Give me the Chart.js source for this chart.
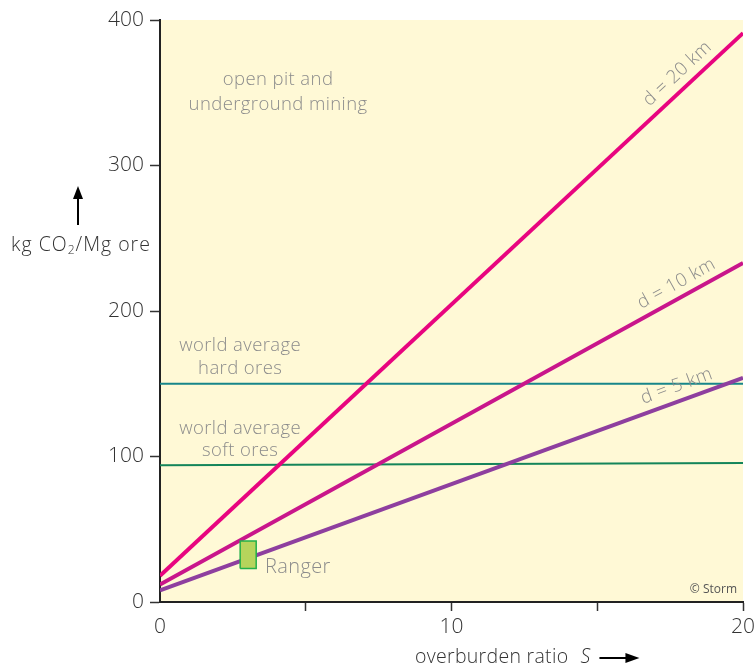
<!DOCTYPE html>
<html>
<head>
<meta charset="utf-8">
<script src="https://cdn.jsdelivr.net/npm/chart.js@4.4.1/dist/chart.umd.min.js"></script>
<style>
  body { margin: 0; background: #fff; }
  #wrap { width: 756px; height: 669px; }
</style>
</head>
<body>
<div id="wrap"><canvas id="graphCanvas" width="756" height="669"></canvas></div>
<script>
// overburden ratio S at both ends of each line
var sRange = [0, 20];
// kg CO2 / Mg ore
var d20km = [18, 391];
var d10km = [12, 233];
var d5km = [8, 154];
var hardOres = [150, 150];
var softOres = [94, 95.5];
// Ranger mine box
var rangerS = [2.75, 3.3];
var rangerCO2 = [23, 42];

var xTicks = [0, 5, 10, 15, 20];
var yTicks = [0, 100, 200, 300, 400];

var FONT = '"Open Sans", Lato, sans-serif';
var GREY = '#8c8c8c';

function pts(ys){
    return sRange.map(function(s, i){ return {x: s, y: ys[i]}; });
}

var rangerBox = [
    {x: rangerS[0], y: rangerCO2[0]},
    {x: rangerS[1], y: rangerCO2[0]},
    {x: rangerS[1], y: rangerCO2[1]},
    {x: rangerS[0], y: rangerCO2[1]},
    {x: rangerS[0], y: rangerCO2[0]}
];

var chartdata = {
    datasets: [
        { label: 'Ranger', data: rangerBox, borderColor: '#22b04a', backgroundColor: '#b6d45c', borderWidth: 1.5, fill: 'shape', order: 0 },
        { label: 'd = 5 km', data: pts(d5km), borderColor: '#8e3f9f', borderWidth: 4, order: 1 },
        { label: 'd = 10 km', data: pts(d10km), borderColor: '#c9168b', borderWidth: 4, order: 2 },
        { label: 'd = 20 km', data: pts(d20km), borderColor: '#e8057f', borderWidth: 4, order: 3 },
        { label: 'hard ores', data: pts(hardOres), borderColor: '#17868a', borderWidth: 2, order: 4 },
        { label: 'soft ores', data: pts(softOres), borderColor: '#14855a', borderWidth: 2, order: 5 }
    ]
};

// labels written in data coordinates
var notes = [
    {t: 'open pit and', s: 4.05, v: 359},
    {t: 'underground mining', s: 4.05, v: 342},
    {t: 'world average', s: 2.75, v: 176},
    {t: 'hard ores', s: 2.75, v: 160.5},
    {t: 'world average', s: 2.75, v: 119},
    {t: 'soft ores', s: 2.75, v: 104}
];
var lineNotes = [
    {t: 'd = 20 km', ys: d20km, s: 18.1, off: 15},
    {t: 'd = 10 km', ys: d10km, s: 17.95, off: 14},
    {t: 'd = 5 km', ys: d5km, s: 17.9, off: 15}
];

var decor = {
    id: 'decor',
    beforeDraw: function(chart){
        var a = chart.chartArea, c = chart.ctx;
        c.save();
        c.fillStyle = '#fff9d6';
        c.fillRect(a.left, a.top, a.right - a.left, a.bottom - a.top);
        c.restore();
    },
    afterDraw: function(chart){
        var c = chart.ctx, x = chart.scales.x, y = chart.scales.y, a = chart.chartArea;
        c.save();
        c.letterSpacing = '0.4px';
        c.fillStyle = GREY;
        c.font = '300 18.5px ' + FONT;
        c.textAlign = 'center';
        c.textBaseline = 'middle';
        notes.forEach(function(n){
            c.fillText(n.t, x.getPixelForValue(n.s), y.getPixelForValue(n.v));
        });

        // labels that run along the lines
        lineNotes.forEach(function(n){
            var x0 = x.getPixelForValue(sRange[0]), y0 = y.getPixelForValue(n.ys[0]);
            var x1 = x.getPixelForValue(sRange[1]), y1 = y.getPixelForValue(n.ys[1]);
            var ang = Math.atan2(y1 - y0, x1 - x0);
            var px = x.getPixelForValue(n.s);
            var py = y0 + (px - x0) * (y1 - y0) / (x1 - x0);
            c.save();
            c.translate(px, py);
            c.rotate(ang);
            c.fillText(n.t, 0, -n.off);
            c.restore();
        });

        c.textAlign = 'left';
        c.font = '300 20px ' + FONT;
        c.fillText('Ranger', x.getPixelForValue(3.6), y.getPixelForValue(24));

        c.letterSpacing = '0px';
        c.fillStyle = '#555';
        c.font = '12px ' + FONT;
        c.textAlign = 'right';
        c.fillText('\u00a9 Storm', a.right - 6, a.bottom - 12);

        // y axis title with subscript and arrow
        c.letterSpacing = '1px';
        c.fillStyle = '#333';
        c.textAlign = 'left';
        c.font = '300 19.5px ' + FONT;
        var tx = 11, ty = 245;
        c.fillText('kg CO', tx, ty);
        tx += c.measureText('kg CO').width;
        c.font = '300 12px ' + FONT;
        c.fillText('2', tx, ty + 6);
        tx += c.measureText('2').width;
        c.font = '300 19.5px ' + FONT;
        c.fillText('/Mg ore', tx, ty);

        c.strokeStyle = '#000';
        c.lineWidth = 2;
        c.beginPath();
        c.moveTo(78, 225); c.lineTo(78, 196); c.stroke();
        c.fillStyle = '#000';
        c.beginPath();
        c.moveTo(78, 186); c.lineTo(73, 199); c.lineTo(83, 199); c.closePath(); c.fill();

        // x axis title
        c.letterSpacing = '0.3px';
        c.fillStyle = '#333';
        c.font = '300 19.5px ' + FONT;
        var xx = 415, xy = 657;
        c.fillText('overburden ratio', xx, xy);
        xx += c.measureText('overburden ratio').width + 12;
        c.font = 'italic 300 19.5px ' + FONT;
        c.fillText('S', xx, xy);
        xx += c.measureText('S').width + 9;
        c.beginPath();
        c.moveTo(xx, xy + 1); c.lineTo(xx + 28, xy + 1); c.stroke();
        c.fillStyle = '#000';
        c.beginPath();
        c.moveTo(xx + 40, xy + 1); c.lineTo(xx + 26, xy - 4); c.lineTo(xx + 26, xy + 6); c.closePath(); c.fill();
        c.restore();
    }
};

var ctx = document.getElementById('graphCanvas');
var lineGraph = new Chart(ctx, {
    type: 'line',
    data: chartdata,
    plugins: [decor],
    options: {
        responsive: false,
        animation: false,
        layout: { padding: { top: 20, right: 13, left: 0, bottom: 0 } },
        elements: { point: { radius: 0 }, line: { tension: 0 } },
        plugins: { legend: { display: false }, tooltip: { enabled: false } },
        scales: {
            x: {
                type: 'linear', min: 0, max: 20,
                afterBuildTicks: function(s){ s.ticks = xTicks.map(function(v){ return {value: v}; }); },
                afterFit: function(s){ s.height = 67; s.paddingRight = 0; s.paddingLeft = 0; },
                border: { display: true, color: '#222', width: 2 },
                grid: {
                    drawOnChartArea: false, drawTicks: true, tickLength: 9, tickWidth: 1.5,
                    tickColor: function(c){ return c.tick && c.tick.value === 0 ? 'rgba(0,0,0,0)' : '#333'; }
                },
                ticks: {
                    color: '#333', padding: 3, maxRotation: 0,
                    font: { family: FONT, size: 21, weight: 300 },
                    callback: function(v){ return (v === 5 || v === 15) ? '' : v; }
                }
            },
            y: {
                type: 'linear', min: 0, max: 400,
                afterBuildTicks: function(s){ s.ticks = yTicks.map(function(v){ return {value: v}; }); },
                afterFit: function(s){ s.width = 160; },
                border: { display: true, color: '#222', width: 2 },
                grid: { drawOnChartArea: false, drawTicks: true, tickLength: 10, tickWidth: 1.5, tickColor: '#333' },
                ticks: { color: '#333', padding: 6, font: { family: FONT, size: 21, weight: 300 } }
            }
        }
    }
});
</script>
</body>
</html>
